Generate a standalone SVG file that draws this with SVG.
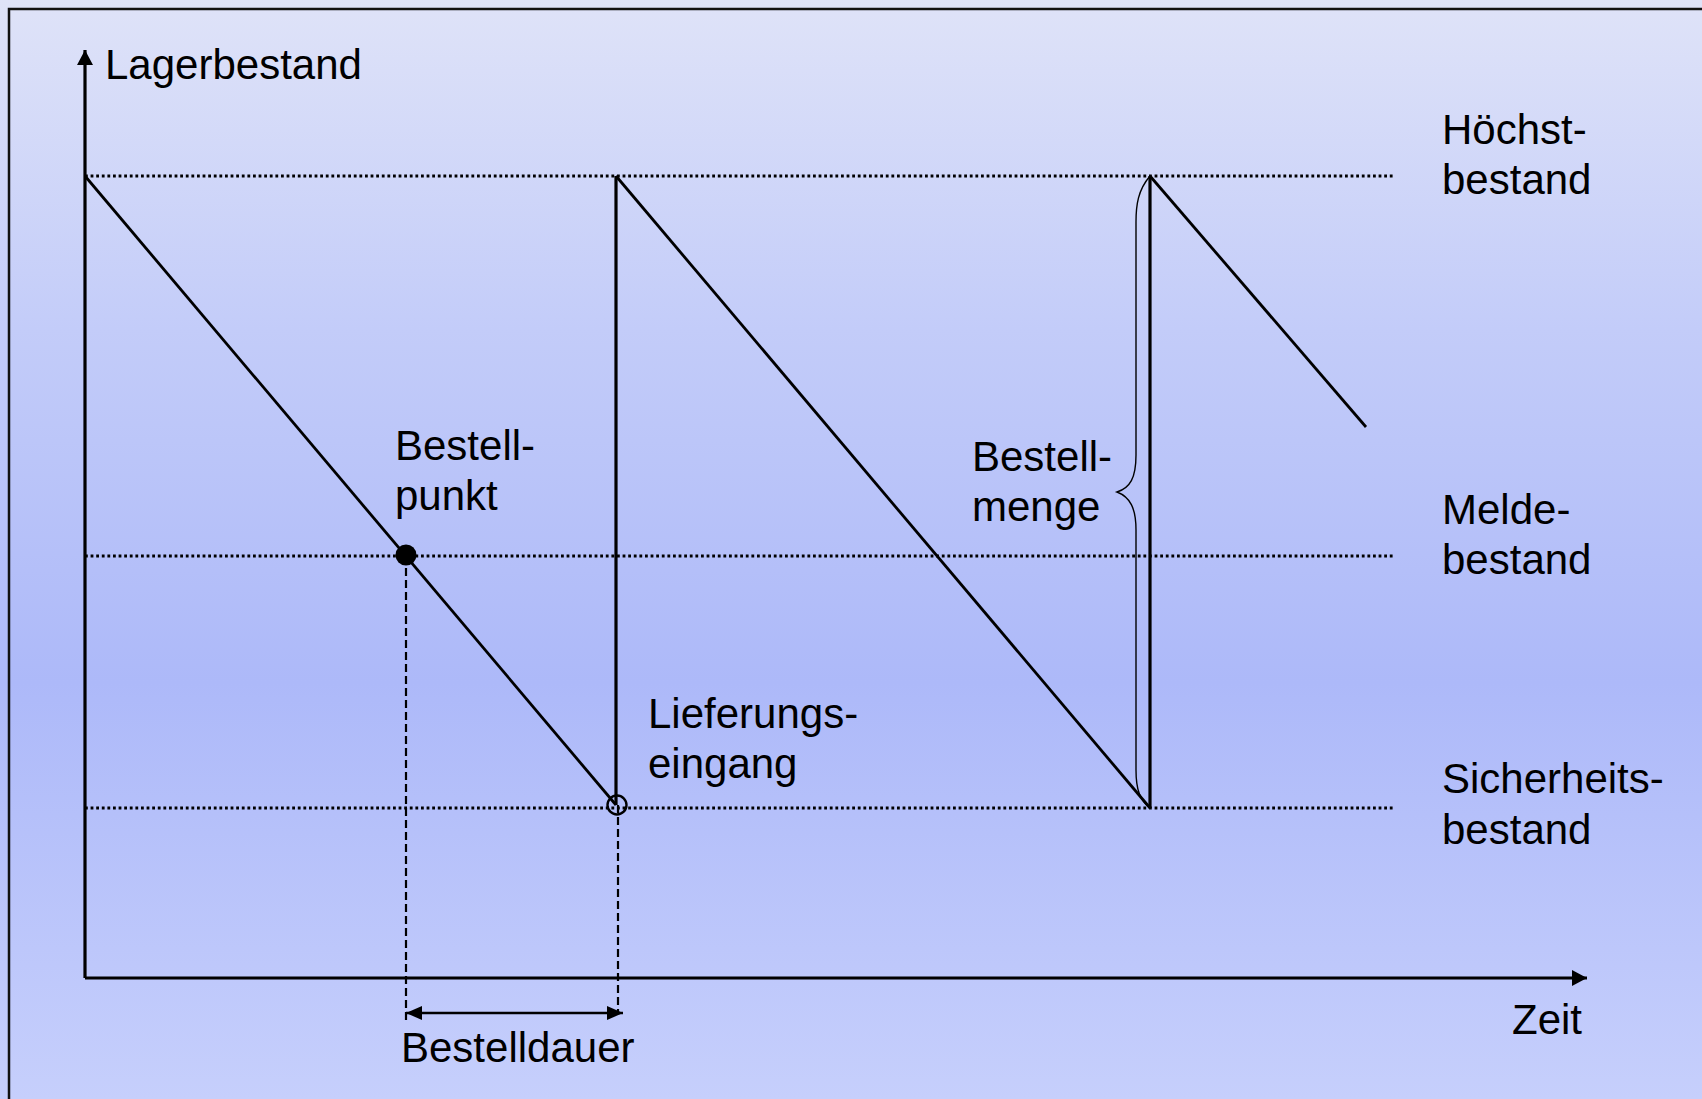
<svg xmlns="http://www.w3.org/2000/svg" width="1702" height="1099" viewBox="0 0 1702 1099">
<defs>
<linearGradient id="bg" x1="0" y1="0" x2="0" y2="1">
<stop offset="0" stop-color="#dfe3f8"/>
<stop offset="0.3" stop-color="#c3ccf9"/>
<stop offset="0.62" stop-color="#adb9f9"/>
<stop offset="1" stop-color="#c6cffc"/>
</linearGradient>
<marker id="axh" viewBox="0 0 16 16" refX="15" refY="8" markerWidth="16" markerHeight="16" markerUnits="userSpaceOnUse" orient="auto">
<path d="M0,0 L15,8 L0,16 z" fill="#000"/>
</marker>
<marker id="dh" viewBox="0 0 16 14" refX="16" refY="7" markerWidth="16" markerHeight="14" markerUnits="userSpaceOnUse" orient="auto-start-reverse">
<path d="M0,0 L16,7 L0,14 z" fill="#000"/>
</marker>
</defs>
<style>
text { font-family: "Liberation Sans", Arial, sans-serif; font-size: 42px; fill: #000; }
.dot { stroke: #000; stroke-width: 2.8; stroke-dasharray: 2.8 2.8; fill: none; }
.dash { stroke: #000; stroke-width: 2.2; stroke-dasharray: 8 4; fill: none; }
.line { stroke: #000; stroke-width: 2.8; fill: none; }
.vert { stroke: #000; stroke-width: 3.2; fill: none; }
.axis { stroke: #000; stroke-width: 3.2; fill: none; }
.brace { stroke: #000; stroke-width: 1.4; fill: none; }
</style>
<rect x="0" y="0" width="1702" height="1099" fill="url(#bg)"/>
<path d="M9,1099 L9,9 L1702,9" fill="none" stroke="#111" stroke-width="2.5"/>

<g id="levels">
<line class="dot" x1="85" y1="176" x2="1395" y2="176"/>
<line class="dot" x1="85" y1="556" x2="1395" y2="556"/>
<line class="dot" x1="85" y1="808" x2="1395" y2="808"/>
</g>

<g id="connectors">
<line class="axis" x1="85" y1="978" x2="85" y2="50" marker-end="url(#axh)"/>
<line class="axis" x1="85" y1="978" x2="1587" y2="978" marker-end="url(#axh)"/>
<polyline class="line" points="85,176 616,805"/>
<polyline class="line" points="616,176 1150,808"/>
<polyline class="line" points="1150,176 1366,427"/>
<line class="vert" x1="616" y1="805" x2="616" y2="176"/>
<line class="vert" x1="1150" y1="808" x2="1150" y2="176"/>
<line class="dash" x1="406" y1="556" x2="406" y2="1023"/>
<line class="dash" x1="618" y1="805" x2="618" y2="1013"/>
<line x1="406" y1="1013" x2="623" y2="1013" stroke="#000" stroke-width="2.4" marker-start="url(#dh)" marker-end="url(#dh)"/>
<path class="brace" d="M1150,176 C1138,190 1136,205 1136,222 L1136,455 C1136,478 1130,488 1117,492 C1130,497 1136,508 1136,530 L1136,770 C1136,790 1140,800 1150,808"/>
</g>

<g id="bestellpunkt">
<circle cx="406" cy="555" r="10.5" fill="#000"/>
<text x="395" y="460">Bestell-</text>
<text x="395" y="510">punkt</text>
</g>

<g id="lieferungseingang">
<circle cx="617" cy="805" r="9.5" fill="none" stroke="#000" stroke-width="2.4"/>
<text x="648" y="728">Lieferungs-</text>
<text x="648" y="778">eingang</text>
</g>

<g id="bestellmenge">
<text x="972" y="471">Bestell-</text>
<text x="972" y="521">menge</text>
</g>

<g id="lagerbestand">
<text x="105" y="79">Lagerbestand</text>
</g>

<g id="hoechstbestand">
<text x="1442" y="144">Höchst-</text>
<text x="1442" y="194">bestand</text>
</g>

<g id="meldebestand">
<text x="1442" y="524">Melde-</text>
<text x="1442" y="574">bestand</text>
</g>

<g id="sicherheitsbestand">
<text x="1442" y="793">Sicherheits-</text>
<text x="1442" y="844">bestand</text>
</g>

<g id="zeit">
<text x="1512" y="1034">Zeit</text>
</g>

<g id="bestelldauer">
<text x="401" y="1062">Bestelldauer</text>
</g>
</svg>
